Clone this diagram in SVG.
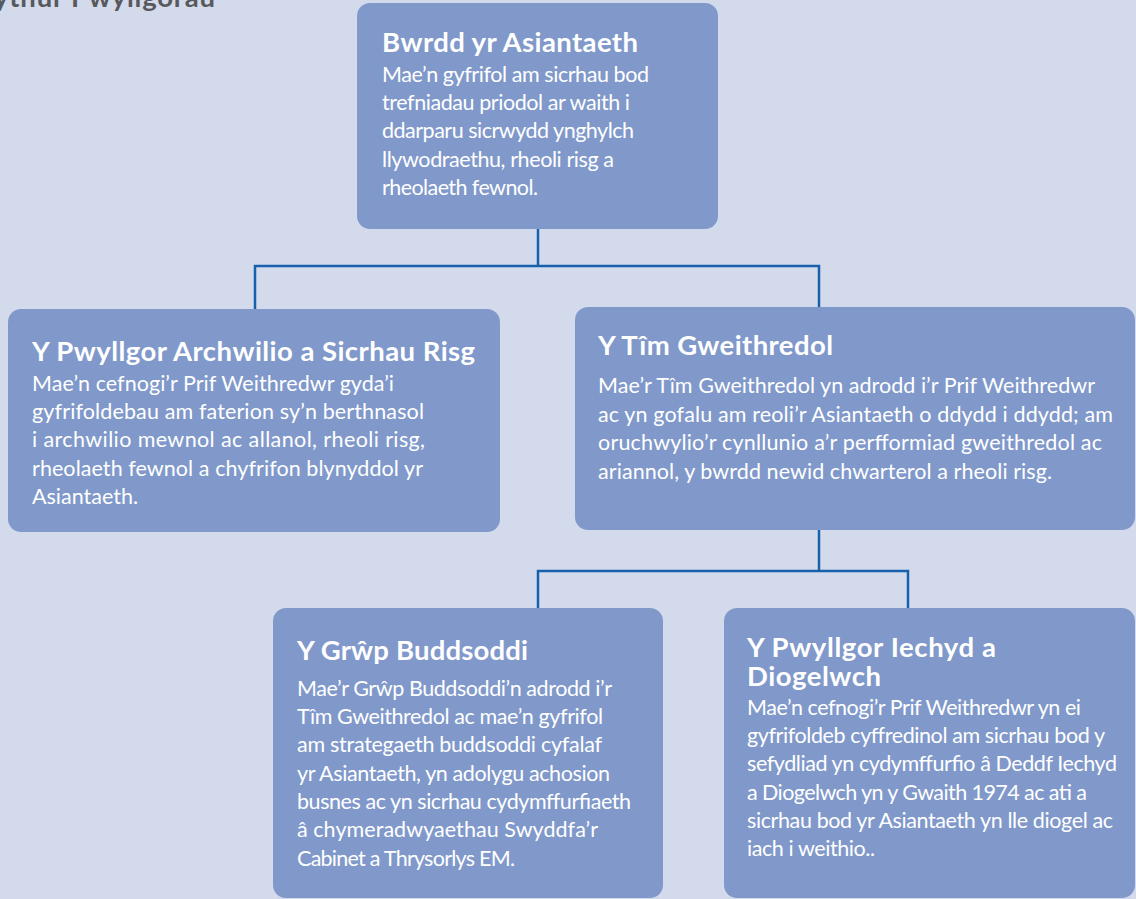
<svg xmlns="http://www.w3.org/2000/svg" width="1136" height="899" viewBox="0 0 1136 899">
<style>
.bg{fill:#D3DAEC}
.box{fill:#8099CA}
.conn{fill:none;stroke:#1761AC;stroke-width:2.5;stroke-linecap:square}
.t{font-family:Lato,"Open Sans",sans-serif;font-weight:700;font-size:27.5px;fill:#ffffff}
.b{font-family:Lato,"Open Sans",sans-serif;font-weight:400;font-size:21.5px;fill:#ffffff}
.h{font-family:Lato,"Open Sans",sans-serif;font-weight:700;font-size:27.5px;fill:#58595B}
</style>
<rect class="bg" x="0" y="0" width="1136" height="899"/>
<text class="h" x="-6" y="7" textLength="221" lengthAdjust="spacing">ythur Pwyllgorau</text>
<g id="connectors">
<path class="conn" d="M538 229 V266 M255 266 H819 M255 266 V309 M819 266 V307"/>
<path class="conn" d="M819 530 V571 M538 571 H908 M538 571 V608 M908 571 V608"/>
</g>
<g id="node-bwrdd">
<rect class="box" x="357" y="3" width="361" height="226" rx="13"/>
<text class="t" x="382" y="52" textLength="256" lengthAdjust="spacing">Bwrdd yr Asiantaeth</text>
<text class="b" x="382" y="82" textLength="267" lengthAdjust="spacing">Mae’n gyfrifol am sicrhau bod</text>
<text class="b" x="382" y="110" textLength="248" lengthAdjust="spacing">trefniadau priodol ar waith i</text>
<text class="b" x="382" y="138" textLength="252" lengthAdjust="spacing">ddarparu sicrwydd ynghylch</text>
<text class="b" x="382" y="167" textLength="232" lengthAdjust="spacing">llywodraethu, rheoli risg a</text>
<text class="b" x="382" y="195" textLength="156" lengthAdjust="spacing">rheolaeth fewnol.</text>
</g>
<g id="node-archwilio">
<rect class="box" x="8" y="309" width="492" height="223" rx="13"/>
<text class="t" x="32" y="361" textLength="443" lengthAdjust="spacing">Y Pwyllgor Archwilio a Sicrhau Risg</text>
<text class="b" x="32" y="391" textLength="362" lengthAdjust="spacing">Mae’n cefnogi’r Prif Weithredwr gyda’i</text>
<text class="b" x="32" y="419" textLength="392" lengthAdjust="spacing">gyfrifoldebau am faterion sy’n berthnasol</text>
<text class="b" x="32" y="447" textLength="393" lengthAdjust="spacing">i archwilio mewnol ac allanol, rheoli risg,</text>
<text class="b" x="32" y="476" textLength="391" lengthAdjust="spacing">rheolaeth fewnol a chyfrifon blynyddol yr</text>
<text class="b" x="32" y="504" textLength="106" lengthAdjust="spacing">Asiantaeth.</text>
</g>
<g id="node-tim">
<rect class="box" x="575" y="307" width="560" height="223" rx="13"/>
<text class="t" x="598" y="355" textLength="235" lengthAdjust="spacing">Y Tîm Gweithredol</text>
<text class="b" x="598" y="393" textLength="497" lengthAdjust="spacing">Mae’r Tîm Gweithredol yn adrodd i’r Prif Weithredwr</text>
<text class="b" x="598" y="421.5" textLength="515" lengthAdjust="spacing">ac yn gofalu am reoli’r Asiantaeth o ddydd i ddydd; am</text>
<text class="b" x="598" y="450" textLength="504" lengthAdjust="spacing">oruchwylio’r cynllunio a’r perfformiad gweithredol ac</text>
<text class="b" x="598" y="478.5" textLength="454" lengthAdjust="spacing">ariannol, y bwrdd newid chwarterol a rheoli risg.</text>
</g>
<g id="node-buddsoddi">
<rect class="box" x="273" y="608" width="390" height="290" rx="13"/>
<text class="t" x="297" y="660" textLength="231" lengthAdjust="spacing">Y Grŵp Buddsoddi</text>
<text class="b" x="297" y="696" textLength="315" lengthAdjust="spacing">Mae’r Grŵp Buddsoddi’n adrodd i’r</text>
<text class="b" x="297" y="724" textLength="306" lengthAdjust="spacing">Tîm Gweithredol ac mae’n gyfrifol</text>
<text class="b" x="297" y="752" textLength="305" lengthAdjust="spacing">am strategaeth buddsoddi cyfalaf</text>
<text class="b" x="297" y="781" textLength="313" lengthAdjust="spacing">yr Asiantaeth, yn adolygu achosion</text>
<text class="b" x="297" y="809" textLength="334" lengthAdjust="spacing">busnes ac yn sicrhau cydymffurfiaeth</text>
<text class="b" x="297" y="837" textLength="301" lengthAdjust="spacing">â chymeradwyaethau Swyddfa’r</text>
<text class="b" x="297" y="866" textLength="218" lengthAdjust="spacing">Cabinet a Thrysorlys EM.</text>
</g>
<g id="node-iechyd">
<rect class="box" x="724" y="608" width="411" height="290" rx="13"/>
<text class="t" x="747" y="657" textLength="249" lengthAdjust="spacing">Y Pwyllgor Iechyd a</text>
<text class="t" x="747" y="686" textLength="134" lengthAdjust="spacing">Diogelwch</text>
<text class="b" x="747" y="715" textLength="334" lengthAdjust="spacing">Mae’n cefnogi’r Prif Weithredwr yn ei</text>
<text class="b" x="747" y="743" textLength="358" lengthAdjust="spacing">gyfrifoldeb cyffredinol am sicrhau bod y</text>
<text class="b" x="747" y="771" textLength="370" lengthAdjust="spacing">sefydliad yn cydymffurfio â Deddf Iechyd</text>
<text class="b" x="747" y="800" textLength="340" lengthAdjust="spacing">a Diogelwch yn y Gwaith 1974 ac ati a</text>
<text class="b" x="747" y="828" textLength="366" lengthAdjust="spacing">sicrhau bod yr Asiantaeth yn lle diogel ac</text>
<text class="b" x="747" y="856" textLength="128" lengthAdjust="spacing">iach i weithio..</text>
</g>
</svg>
